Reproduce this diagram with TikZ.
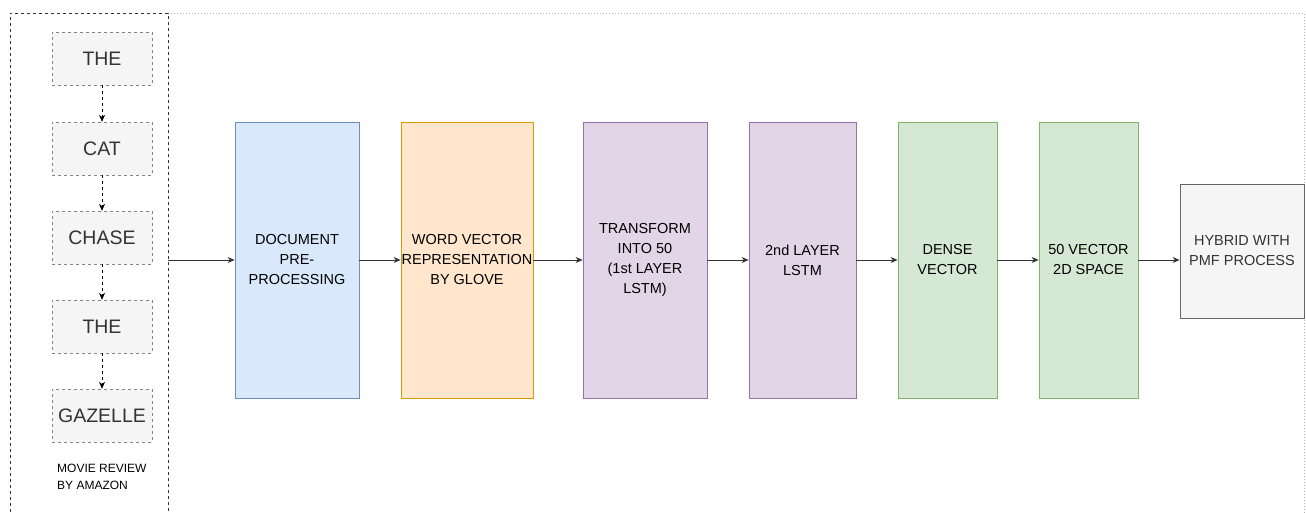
\documentclass[tikz,border=0pt]{standalone}
\usepackage{fontspec}
\setmainfont{Liberation Sans}
\usetikzlibrary{arrows.meta}
\definecolor{bluef}{HTML}{DAE8FC}\definecolor{blued}{HTML}{6C8EBF}
\definecolor{orf}{HTML}{FFE6CC}\definecolor{ord}{HTML}{D79B00}
\definecolor{puf}{HTML}{E1D5E7}\definecolor{pud}{HTML}{9673A6}
\definecolor{grf}{HTML}{D5E8D4}\definecolor{grd}{HTML}{82B366}
\definecolor{gyf}{HTML}{F5F5F5}\definecolor{gyd}{HTML}{666666}
\definecolor{txt}{HTML}{333333}
\begin{document}
\begin{tikzpicture}[x=1pt,y=-1pt,
  stage/.style={draw,line width=0.8pt,minimum height=276pt,align=center,font=\fontsize{14.5}{20}\selectfont,inner sep=0pt},
  word/.style={draw=gyd!80,dashed,fill=gyf,minimum width=100pt,minimum height=53pt,font=\fontsize{19.5}{22}\selectfont,text=txt,inner sep=0pt},
  flow/.style={-{Stealth[length=7pt,width=6pt]},line width=0.7pt,draw=black!80},
  wflow/.style={-{Stealth[length=7pt,width=6pt]},line width=0.7pt,dashed}]
\useasboundingbox (0,0) rectangle (1306,512);
% outer dotted frame
\draw[gray!60,dotted,line width=1pt] (168,13) -- (1304,13) -- (1304,515);
\node[draw=black!80,dashed,line width=0.7pt,minimum width=158pt,minimum height=520pt,anchor=north west,inner sep=0pt] (grp) at (10,13) {};
% words
\node[word] (w1) at (102,58.5) {THE};
\node[word] (w2) at (102,148.5) {CAT};
\node[word] (w3) at (102,237.5) {CHASE};
\node[word] (w4) at (102,326.5) {THE};
\node[word] (w5) at (102,415.5) {GAZELLE};
\draw[wflow] (w1) -- (w2);
\draw[wflow] (w2) -- (w3);
\draw[wflow] (w3) -- (w4);
\draw[wflow] (w4) -- (w5);
\node[anchor=north west,align=left,inner sep=0pt,font=\fontsize{12}{16.5}\selectfont] (cap) at (57,464) {MOVIE REVIEW\\BY AMAZON};
% stages
\node[stage,fill=bluef,draw=blued,minimum width=124pt] (s1) at (297,260) {DOCUMENT\\PRE-\\PROCESSING};
\node[stage,fill=orf,draw=ord,minimum width=132pt] (s2) at (467,260) {WORD VECTOR\\REPRESENTATION\\BY GLOVE};
\node[stage,fill=puf,draw=pud,minimum width=124pt] (s3) at (645,260) {TRANSFORM\\INTO 50\\(1st LAYER\\LSTM)};
\node[stage,fill=puf,draw=pud,minimum width=107pt] (s4) at (802.5,260) {2nd LAYER\\LSTM};
\node[stage,fill=grf,draw=grd,minimum width=99pt] (s5) at (947.5,260) {DENSE\\VECTOR};
\node[stage,fill=grf,draw=grd,minimum width=99pt] (s6) at (1088.5,260) {50 VECTOR\\2D SPACE};
\node[stage,fill=gyf,draw=gyd,minimum width=124pt,minimum height=134pt,text=txt] (s7) at (1242,251) {HYBRID WITH\\PMF PROCESS};
% connectors
\draw[flow] (168,260) -- (s1.west);
\draw[flow] (s1.east) -- (s2.west |- s1.east);
\draw[flow] (s2.east) -- (s3.west |- s2.east);
\draw[flow] (s3.east) -- (s4.west |- s3.east);
\draw[flow] (s4.east) -- (s5.west |- s4.east);
\draw[flow] (s5.east) -- (s6.west |- s5.east);
\draw[flow] (s6.east) -- (s7.west |- s6.east);
\end{tikzpicture}
\end{document}
